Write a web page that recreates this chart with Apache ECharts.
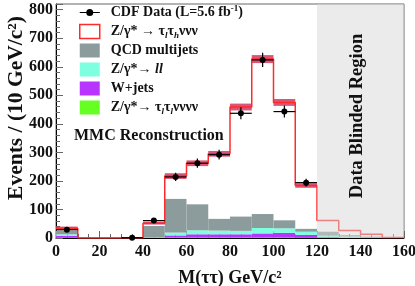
<!DOCTYPE html>
<html><head><meta charset="utf-8">
<script src="https://cdn.jsdelivr.net/npm/echarts@6/dist/echarts.min.js"></script>
<style>html,body{margin:0;padding:0;background:#fff}#c{width:415px;height:286px}</style>
</head><body><div id="c"></div>
<script>
// bin edges (GeV/c^2), 10 GeV bins
const binEdges = [0,10,20,30,40,50,60,70,80,90,100,110,120,130,140,150,160];
// stacked backgrounds (per bin)
const zTauTauLL = [1,0,0,0,0,2,2,2,2,2,2,1,1,0,0,0];
const wJets     = [7,0,0,0,1,7,11,11,11,14,16,10,3,1,1,0];
const zLL       = [5,0,0,0,2,10,14,13,12,19,16,11,4,4,1,0];
const qcd       = [13,0,0,0,39,118,91,41,50,49,28,10,14,5,3,2];
// total expectation (red) and its uncertainty band
const signalTotal = [34,0,0,0,52,217,262,295,459,627,475,184,61,26,13,2];
const signalErr   = [6,0,0,0,5,10,10,10,12,14,12,8,0,0,0,0];
// CDF data points
const dataMass   = [5,35,45,55,65,75,85,95,105,115];
const dataEvents = [29,1,61,214,262,292,437,624,443,194];
// blinded region
const blindedRange = [120,160];
const xTickLabels = [0,20,40,60,80,100,120,140,160];
const yTickLabels = [0,100,200,300,400,500,600,700,800];

const FONT = 'Liberation Serif';
const names = {
  data: 'CDF Data (L=5.6 fb⁻¹)',
  sig: 'Z/γ* → τlτhννν',
  qcd: 'QCD multijets',
  zll: 'Z/γ*→ ll',
  w: 'W+jets',
  ztt: 'Z/γ*→ τlτlνννν'
};
const richNames = {};
richNames[names.data] = '{b|CDF Data (L=5.6 fb}{sup|-1}{b|)}';
richNames[names.sig] = '{b|Z/γ* → }{n|τ}{sub|l}{n|τ}{sub|h}{n|ννν}';
richNames[names.qcd] = '{b|QCD multijets}';
richNames[names.zll] = '{b|Z/γ*→ }{it|ll}';
richNames[names.w] = '{b|W+jets}';
richNames[names.ztt] = '{b|Z/γ*→ }{n|τ}{sub|l}{n|τ}{sub|l}{n|νννν}';

// build stacked rectangles
const comps = [
  {name: names.ztt, vals: zTauTauLL, color: '#66ff22'},
  {name: names.w, vals: wJets, color: '#b834ff'},
  {name: names.zll, vals: zLL, color: '#7effe0'},
  {name: names.qcd, vals: qcd, color: '#8c9b9b'}
];
const base = new Array(qcd.length).fill(0);
const stackSeries = comps.map(c => {
  const rows = c.vals.map((v, i) => {
    const r = [binEdges[i], binEdges[i+1], base[i], base[i] + v];
    base[i] += v;
    return r;
  });
  return {
    type: 'custom', name: c.name, z: 2,
    itemStyle: {color: c.color},
    data: rows,
    renderItem: (params, api) => {
      const p0 = api.coord([api.value(0), api.value(3)]);
      const p1 = api.coord([api.value(1), api.value(2)]);
      return {type: 'rect', shape: {x: p0[0], y: p0[1], width: p1[0]-p0[0], height: p1[1]-p0[1]},
        style: {fill: c.color}};
    }
  };
});

const bandRows = signalTotal.map((v, i) => [binEdges[i], binEdges[i+1], v - signalErr[i], v + signalErr[i]])
  .filter((r, i) => signalErr[i] > 0);
const stepLine = [];
signalTotal.forEach((v, i) => { stepLine.push([binEdges[i], v]); stepLine.push([binEdges[i+1], v]); });

const dataRows = dataMass.map((m, i) => [m, dataEvents[i], Math.sqrt(dataEvents[i])]);

const LH = 17;
const chart = echarts.init(document.getElementById('c'), null, {renderer: 'canvas'});
chart.setOption({
  animation: false,
  backgroundColor: '#fff',
  grid: {left: 56, right: 11, top: 4, bottom: 48, show: true, borderColor: '#666', borderWidth: 1,
    backgroundColor: 'transparent', containLabel: false, outerBoundsMode: 'none'},
  title: {text: 'MMC Reconstruction', left: 74, top: 128, padding: 0,
    textStyle: {fontFamily: FONT, fontWeight: 'bold', fontSize: 16, color: '#111'}},
  legend: {
    orient: 'vertical', left: 79, top: 4, padding: 0, itemWidth: 20, itemHeight: 14, itemGap: 2,
    selectedMode: false,
    data: [
      {name: names.data, icon: 'path://M0,0 M20,14 M0,6.4 L20,6.4 L20,7.6 L0,7.6 Z M13.5,7 A3.5,3.5 0 1 1 6.5,7 A3.5,3.5 0 1 1 13.5,7 Z', itemStyle: {color: '#000'}},
      {name: names.sig, icon: 'rect', itemStyle: {color: '#fff', borderColor: '#ff2a2a', borderWidth: 1.5}},
      {name: names.qcd, icon: 'rect'},
      {name: names.zll, icon: 'rect'},
      {name: names.w, icon: 'rect'},
      {name: names.ztt, icon: 'rect'}
    ],
    formatter: n => richNames[n],
    textStyle: {
      fontFamily: FONT, fontWeight: 'bold', fontSize: 14, color: '#111', padding: [0,0,0,6], lineHeight: LH,
      rich: {
        b: {fontFamily: FONT, fontWeight: 'bold', fontSize: 14, color: '#111', lineHeight: LH},
        n: {fontFamily: FONT, fontSize: 14, color: '#111', lineHeight: LH},
        it: {fontFamily: FONT, fontWeight: 'bold', fontStyle: 'italic', fontSize: 14, color: '#111', lineHeight: LH},
        sub: {fontFamily: FONT, fontWeight: 'bold', fontStyle: 'italic', fontSize: 9, color: '#111', verticalAlign: 'bottom', lineHeight: 11, padding: [6,0,0,0]},
        sup: {fontFamily: FONT, fontWeight: 'bold', fontSize: 9, color: '#111', verticalAlign: 'top', lineHeight: 11, padding: [0,0,6,0]}
      }
    }
  },
  xAxis: {
    type: 'value', min: 0, max: 160, interval: 20,
    name: 'M(ττ) GeV/c²', nameLocation: 'middle', nameGap: 31, nameMoveOverlap: false,
    nameTextStyle: {fontFamily: FONT, fontWeight: 'bold', fontSize: 18, color: '#111'},
    axisLine: {show: true, onZero: false, lineStyle: {color: '#000', width: 1}},
    axisTick: {show: true, inside: true, length: 7, lineStyle: {color: '#666'}},
    minorTick: {show: true, splitNumber: 4, length: 4, lineStyle: {color: '#666'}},
    axisLabel: {fontFamily: FONT, fontWeight: 'bold', fontSize: 16, color: '#111', margin: 6,
      formatter: v => xTickLabels.includes(v) ? String(v) : ''},
    splitLine: {show: false}
  },
  yAxis: {
    type: 'value', min: 0, max: 820, interval: 100,
    name: 'Events / (10 GeV/c²)', nameLocation: 'middle', nameGap: 29, nameRotate: 90, nameMoveOverlap: false,
    nameTextStyle: {fontFamily: FONT, fontWeight: 'bold', fontSize: 21.5, color: '#111', padding: [0,0,0,26]},
    axisLine: {show: true, lineStyle: {color: '#000', width: 1}},
    axisTick: {show: true, inside: true, length: 7, lineStyle: {color: '#666'}},
    minorTick: {show: true, splitNumber: 5, length: 4, lineStyle: {color: '#666'}},
    axisLabel: {fontFamily: FONT, fontWeight: 'bold', fontSize: 16, color: '#111', margin: 3,
      formatter: v => yTickLabels.includes(v) ? String(v) : ''},
    splitLine: {show: false}
  },
  graphic: [{
    type: 'text', x: 357, y: 116, rotation: Math.PI/2, z: 100,
    style: {text: 'Data Blinded Region', fontFamily: FONT, fontWeight: 'bold', fontSize: 18.5, fill: '#111',
      align: 'center', verticalAlign: 'middle'}
  }],
  series: [
    ...stackSeries,
    {
      type: 'custom', name: 'band', z: 3, data: bandRows,
      renderItem: (params, api) => {
        const p0 = api.coord([api.value(0), api.value(3)]);
        const p1 = api.coord([api.value(1), api.value(2)]);
        return {type: 'rect', shape: {x: p0[0], y: p0[1], width: p1[0]-p0[0], height: p1[1]-p0[1]},
          style: {fill: 'rgba(205,30,75,0.75)'}};
      }
    },
    {
      type: 'line', name: names.sig, z: 4, data: stepLine, symbol: 'none',
      lineStyle: {color: '#ff2a2a', width: 1.5}, itemStyle: {color: '#ff2a2a'}
    },
    {
      type: 'custom', name: 'blind', z: 6, data: [blindedRange],
      renderItem: (params, api) => {
        const p0 = api.coord([api.value(0), 820]);
        const p1 = api.coord([api.value(1), 0]);
        return {type: 'rect', shape: {x: p0[0], y: p0[1], width: p1[0]-p0[0], height: p1[1]-p0[1]},
          style: {fill: 'rgba(215,215,215,0.5)'}};
      }
    },
    {
      type: 'custom', name: names.data, z: 8, data: dataRows, itemStyle: {color: '#000'},
      renderItem: (params, api) => {
        const x = api.value(0), y = api.value(1), e = api.value(2);
        const c = api.coord([x, y]);
        const l = api.coord([x - 5, y]), r = api.coord([x + 5, y]);
        const t = api.coord([x, y + e]), b = api.coord([x, Math.max(0, y - e)]);
        return {type: 'group', children: [
          {type: 'line', shape: {x1: l[0], y1: l[1], x2: r[0], y2: r[1]}, style: {stroke: '#000', lineWidth: 1.2}},
          {type: 'line', shape: {x1: t[0], y1: t[1], x2: b[0], y2: b[1]}, style: {stroke: '#000', lineWidth: 1.2}},
          {type: 'circle', shape: {cx: c[0], cy: c[1], r: 3}, style: {fill: '#000'}}
        ]};
      }
    }
  ]
});
</script></body></html>
